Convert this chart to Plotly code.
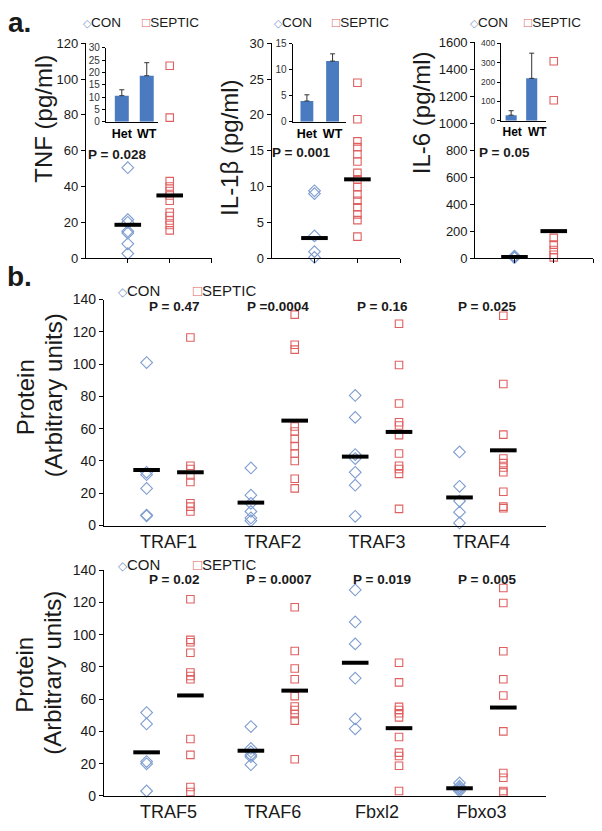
import plotly.graph_objects as go

W, H = 602, 831

# ---------------- DATA ----------------
# Panel a: cytokines (group x: CON=1, SEPTIC=2)
tnf_con = [50.5, 21.5, 20, 15, 14, 8, 2.5]
tnf_sep = [107.5, 78.5, 43, 40, 37.5, 35, 32, 25.5, 23.5, 21, 18.5, 15.5]
tnf_med = [18.6, 35]
il1_con = [9.4, 9.0, 3.1, 0.9, 0.1]
il1_sep = [24.5, 19.4, 16.3, 15.5, 14.5, 13.5, 11.9, 11.0, 9.9, 8.9, 8.0, 7.1, 6.1, 5.3, 3.0]
il1_med = [2.8, 11]
il6_con = [15, 10, 8, 5, 3]
il6_sep = [1460, 1170, 150, 100, 60, 25, 5]
il6_med = [8, 200]
p_a = ["P = 0.028", "P = 0.001", "P = 0.05"]

# Insets (Het / WT)
inset_cats = ["Het", "WT"]
tnf_inset = [10.6, 18.7]
tnf_inset_err = [2.4, 5.3]
il1_inset = [4.0, 11.7]
il1_inset_err = [1.2, 1.4]
il6_inset = [29, 219]
il6_inset_err = [23, 130]

# Panel b top
cats_top = ["TRAF1", "TRAF2", "TRAF3", "TRAF4"]
con_top = [
    [101, 33, 31.5, 23, 6.5, 6],
    [35.7, 18.8, 13.8, 8.7, 4.7, 3],
    [80.6, 67, 44, 41.5, 33, 25, 5.7],
    [45.6, 24.3, 15.2, 8.3, 1.6],
]
sep_top = [
    [116.5, 37, 35, 31, 27, 13.8, 11.7, 8.7],
    [130.7, 112, 109, 61.4, 58.3, 53.7, 49.2, 44.6, 40, 29, 23],
    [125, 99.5, 75.6, 64, 62, 56, 44.6, 37, 35, 32, 10.3],
    [130, 87.7, 56.3, 41.5, 38.7, 36, 33, 20.9, 11.7, 10.7],
]
med_con_top = [34.4, 14.2, 42.7, 17.4]
med_sep_top = [33, 65, 58, 46.6]
p_top = ["P = 0.47", "P =0.0004", "P = 0.16", "P = 0.025"]

# Panel b bottom
cats_bot = ["TRAF5", "TRAF6", "Fbxl2", "Fbxo3"]
con_bot = [
    [51.7, 44.6, 21.3, 19.9, 3],
    [43, 29.4, 27.4, 25.4, 24.3, 19.3],
    [127.8, 107.9, 94.3, 73, 47.7, 41.6],
    [8, 6, 5, 4, 3],
]
sep_bot = [
    [122, 96.8, 95.3, 88.8, 76.5, 74.4, 72.4, 35.3, 25.4, 5.5, 2.4],
    [117, 89.9, 79, 72.4, 61.9, 55.4, 53.3, 50.7, 46.7, 22.7],
    [82.6, 70.4, 55.2, 53.3, 51.3, 48.7, 36.5, 26.8, 24.7, 18.7, 3],
    [129, 119.7, 89.7, 72.4, 62.3, 40, 14.2, 11.2, 3, 2],
]
med_con_bot = [27, 28, 82.6, 4.7]
med_sep_bot = [62.3, 65.3, 42, 54.8]
p_bot = ["P = 0.02", "P = 0.0007", "P = 0.019", "P = 0.005"]

# ---------------- STYLE ----------------
CON_C = "#7d9ccf"
SEP_C = "#e06060"
BAR_C = "#4a7bc0"
TXT = "#1a1a1a"
FONT = "Arial, Liberation Sans, sans-serif"
PFONT = "Liberation Sans, Arial, sans-serif"
PSIZE = 13.5
OFF = 0.21


def dx(a, b):
    return [a / W, b / W]


def dy(top, bottom):
    return [1 - bottom / H, 1 - top / H]


def px(x):
    return x / W


def py(y):
    return 1 - y / H


fig = go.Figure()

base_axis = dict(showline=True, linecolor="black", linewidth=1, showgrid=False,
                 zeroline=False, ticks="outside", ticklen=4, tickcolor="black",
                 fixedrange=True, tickfont=dict(family=FONT, color=TXT))


def add_pts(xs, ys, sym, color, size, xa, ya):
    fig.add_trace(go.Scatter(x=xs, y=ys, mode="markers", xaxis=xa, yaxis=ya,
                             cliponaxis=False, showlegend=False,
                             marker=dict(symbol=sym, size=size, color=color,
                                         line=dict(width=1.1))))


def add_med(xs, ys, xa, ya):
    fig.add_trace(go.Scatter(x=xs, y=ys, mode="markers", xaxis=xa, yaxis=ya,
                             cliponaxis=False, showlegend=False,
                             marker=dict(symbol="line-ew", size=19,
                                         line=dict(color="black", width=4))))


layout = dict(width=W, height=H, margin=dict(l=0, r=0, t=0, b=0),
              paper_bgcolor="white", plot_bgcolor="rgba(0,0,0,0)",
              showlegend=False, font=dict(family=FONT, color=TXT))

# ----- panel a main axes -----
a_specs = [
    ("", tnf_con, tnf_sep, tnf_med, (86, 212), (36, 255), [0, 120], 20),
    ("2", il1_con, il1_sep, il1_med, (272, 401), (36, 255), [0, 30], 5),
    ("3", il6_con, il6_sep, il6_med, (476, 594), (35, 255), [0, 1600], 200),
]
for sfx, con, sep, med, (x0, x1), (y0, y1), yr, dt in a_specs:
    xa, ya = "x" + sfx, "y" + sfx
    add_pts([1] * len(con), con, "diamond-open", CON_C, 9, xa, ya)
    add_pts([2] * len(sep), sep, "square-open", SEP_C, 7.5, xa, ya)
    add_med([1, 2], med, xa, ya)
    layout["xaxis" + sfx] = dict(base_axis, domain=dx(x0, x1), range=[0, 3],
                                 tickvals=[1, 2, 3], ticktext=["", "", ""],
                                 anchor=ya)
    layout["yaxis" + sfx] = dict(base_axis, domain=dy(y0, y1), range=yr,
                                 dtick=dt, tick0=0, anchor=xa,
                                 tickfont=dict(family=FONT, color=TXT, size=13))

# ----- insets -----
inset_specs = [
    ("4", tnf_inset, tnf_inset_err, (106, 158), (40.7, 116), [0, 30], 5, [-0.64, 1.44], 0.56, 10, 12.5, [0, 1]),
    ("5", il1_inset, il1_inset_err, (293, 347), (36.7, 116), [0, 15], 5, [-0.56, 1.54], 0.5, 10, 12.5, [0, 1]),
    ("6", il6_inset, il6_inset_err, (501.7, 547), (36, 115), [0, 400], 100, [-0.5, 1.7], 0.54, 8.5, 12, [0.05, 1.27]),
]
for sfx, vals, errs, (x0, x1), (y0, y1), yr, dt, xr, bw, fs, lfs, lpos in inset_specs:
    xa, ya = "x" + sfx, "y" + sfx
    fig.add_trace(go.Bar(x=[0, 1], y=vals, xaxis=xa, yaxis=ya, width=bw,
                         marker=dict(color=BAR_C, line=dict(width=0)),
                         error_y=dict(type="data", symmetric=False, array=errs,
                                      arrayminus=[0, 0], color="#333",
                                      thickness=1, width=2.5),
                         showlegend=False))
    layout["xaxis" + sfx] = dict(base_axis, domain=dx(x0, x1), range=xr,
                                 tickvals=lpos, ticktext=inset_cats, ticks="",
                                 tickangle=0, anchor=ya,
                                 tickfont=dict(family=FONT, color="black", size=lfs,
                                               weight="bold"))
    layout["yaxis" + sfx] = dict(base_axis, domain=dy(y0, y1), range=yr, dtick=dt,
                                 tick0=0, anchor=xa, ticklen=3,
                                 tickfont=dict(family=FONT, color="#333", size=fs))

# ----- panel b -----
b_specs = [
    ("7", cats_top, con_top, sep_top, med_con_top, med_sep_top, (297.3, 527.7)),
    ("8", cats_bot, con_bot, sep_bot, med_con_bot, med_sep_bot, (573.3, 803.3)),
]
for sfx, cats, con, sep, mc, ms, (y0, y1) in b_specs:
    xa, ya = "x" + sfx, "y" + sfx
    for i, (c, s) in enumerate(zip(con, sep)):
        add_pts([i + 1 - OFF] * len(c), c, "diamond-open", CON_C, 9, xa, ya)
        add_pts([i + 1 + OFF] * len(s), s, "square-open", SEP_C, 7.5, xa, ya)
    add_med([i + 1 - OFF for i in range(4)], mc, xa, ya)
    add_med([i + 1 + OFF for i in range(4)], ms, xa, ya)
    layout["xaxis" + sfx] = dict(base_axis, domain=dx(104, 547), range=[0.38, 4.62],
                                 tickvals=[1, 2, 3, 4], ticktext=cats, ticks="",
                                 tickangle=0, anchor=ya,
                                 tickfont=dict(family=FONT, color=TXT, size=18))
    layout["yaxis" + sfx] = dict(base_axis, domain=dy(y0, y1), range=[0, 140],
                                 dtick=20, tick0=0, anchor=xa,
                                 tickfont=dict(family=FONT, color=TXT, size=14))

fig.update_layout(**layout)

# ---------------- ANNOTATIONS ----------------
anns = []


def ann(x, y, text, size, bold=False, angle=0, family=FONT, color=TXT, xanchor="center"):
    anns.append(dict(x=px(x), y=py(y), xref="paper", yref="paper", text=text,
                     showarrow=False, textangle=angle, xanchor=xanchor, yanchor="middle",
                     font=dict(family=family, size=size, color=color,
                               weight="bold" if bold else "normal")))


def legend(xc, xs, y, size):
    ann(xc, y, f'<span style="color:{CON_C};font-size:{size * 0.8:.1f}px">◇</span>CON', size)
    ann(xs, y, f'<span style="color:{SEP_C}">□</span>SEPTIC', size)


ann(20, 15, "a.", 28, bold=True)
ann(20, 274, "b.", 28, bold=True)

legend(102, 171, 15, 13.5)
legend(293, 361, 15, 13.5)
legend(490, 553, 15, 13.5)

ann(44, 113, "TNF (pg/ml)", 24, angle=-90)
ann(230, 142, "IL-1β (pg/ml)", 24, angle=-90)
ann(423, 107, "IL-6 (pg/ml)", 24, angle=-90)

ann(117, 149, p_a[0], PSIZE, bold=True, family=PFONT)
ann(302, 147, p_a[1], PSIZE, bold=True, family=PFONT)
ann(505, 147, p_a[2], PSIZE, bold=True, family=PFONT)

legend(139, 225, 288, 15)
legend(139, 225, 567, 15)

for sfx, ps, ypx in (("7", p_top, 304), ("8", p_bot, 583)):
    for i, t in enumerate(ps):
        anns.append(dict(x=i + 1.05, y=py(ypx), xref="x" + sfx, yref="paper", text=t,
                         showarrow=False, xanchor="center", yanchor="middle",
                         font=dict(family=PFONT, size=PSIZE, color=TXT, weight="bold")))

ann(25, 397, "Protein", 24, angle=-90)
ann(53, 395, "(Arbitrary units)", 24, angle=-90)
ann(25, 680, "Protein", 24, angle=-90)
ann(53, 678, "(Arbitrary units)", 24, angle=-90)

fig.update_layout(annotations=anns)
fig.write_html("out.html", config={"displayModeBar": False},
               post_script="document.body.style.margin='0';")
